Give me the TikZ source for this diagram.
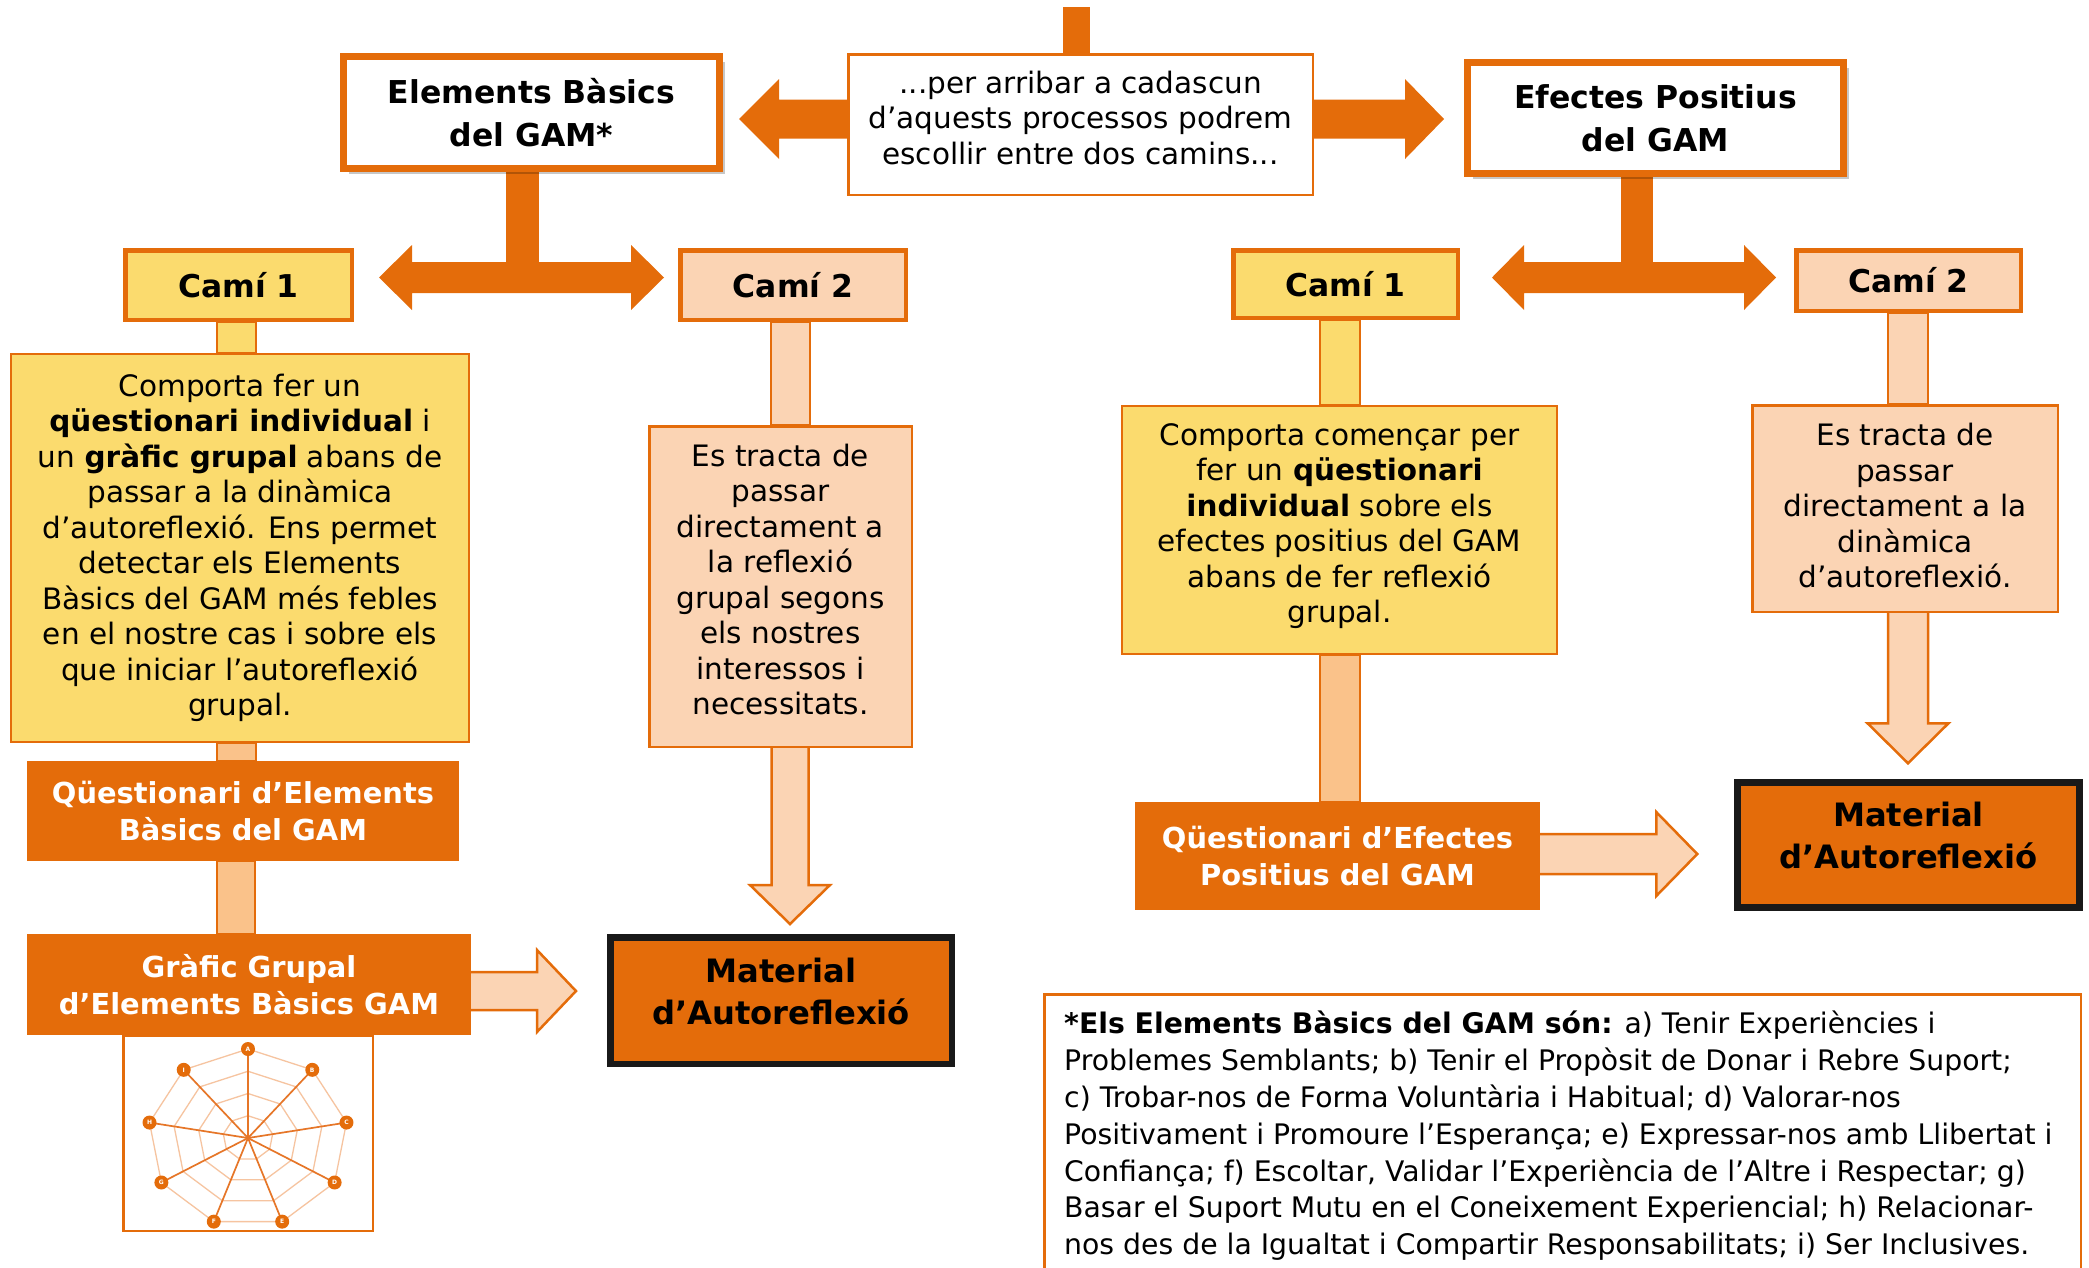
\documentclass[tikz,border=0pt]{standalone}
\usepackage{fontspec}
\setmainfont{DejaVu Sans}
\usetikzlibrary{calc,shadows,backgrounds}
\definecolor{org}{HTML}{E46C0A}
\definecolor{yel}{HTML}{FBDB6E}
\definecolor{pch}{HTML}{FBD4B4}
\definecolor{lor}{HTML}{FAC28A}
\definecolor{ringc}{HTML}{F6C4A0}
\definecolor{spokec}{HTML}{E67628}

% horizontal block arrow: style, start, tip, shaft half, head half, head length
\newcommand\harrowpath[6]{\path[#1] let \p1=#2, \p2=#3, \n1={ifthenelse(\x2>\x1,1,-1)} in
 (\x1,{\y1+#4}) -- ({\x2-(\n1)*#6},{\y1+#4}) -- ({\x2-(\n1)*#6},{\y1+#5}) -- (\x2,\y1) -- ({\x2-(\n1)*#6},{\y1-#5}) -- ({\x2-(\n1)*#6},{\y1-#4}) -- (\x1,{\y1-#4}) -- cycle;}
% vertical block arrow
\newcommand\varrowpath[6]{\path[#1] let \p1=#2, \p2=#3, \n1={ifthenelse(\y2>\y1,1,-1)} in
 ({\x1+#4},\y1) -- ({\x1+#4},{\y2-(\n1)*#6}) -- ({\x1+#5},{\y2-(\n1)*#6}) -- (\x1,\y2) -- ({\x1-#5},{\y2-(\n1)*#6}) -- ({\x1-#4},{\y2-(\n1)*#6}) -- ({\x1-#4},\y1) -- cycle;}
% double headed horizontal arrow: style, left tip, right tip, shaft half, head half, head length
\newcommand\dblarrowpath[6]{\path[#1] let \p1=#2, \p2=#3 in
 (\x1,\y1) -- ({\x1+#6},{\y1+#5}) -- ({\x1+#6},{\y1+#4}) -- ({\x2-#6},{\y1+#4}) -- ({\x2-#6},{\y1+#5}) -- (\x2,\y1) -- ({\x2-#6},{\y1-#5}) -- ({\x2-#6},{\y1-#4}) -- ({\x1+#6},{\y1-#4}) -- ({\x1+#6},{\y1-#5}) -- cycle;}
% vertical bar: style, start (x centre), end, half width
\newcommand\vbarpath[4]{\path[#1] let \p1=#2, \p2=#3 in ({\x1-#4},\y1) rectangle ({\x1+#4},\y2);}

\tikzset{
 basebox/.style={rectangle, inner sep=0pt, align=center},
 txt/.style={font=\fontsize{29.5}{35.5}\selectfont},
 plaintext/.style={inner sep=0pt, align=center},
 introbox/.style={basebox, draw=org, line width=2.5pt, fill=white},
 headbox/.style={basebox, draw=org, line width=7pt, fill=white, font=\fontsize{31.5}{43}\selectfont\bfseries,
   drop shadow={shadow xshift=5pt, shadow yshift=-5pt, opacity=0.22, fill=black}},
 camibox/.style={basebox, draw=org, line width=4.5pt, font=\fontsize{31.4}{36}\selectfont\bfseries},
 descbox/.style={basebox, txt, draw=org, line width=2.5pt},
 qbox/.style={basebox, fill=org, text=white, font=\fontsize{28.9}{37.5}\selectfont\bfseries},
 matbox/.style={basebox, fill=org, draw=black!90, line width=6.5pt},
 mattext/.style={plaintext, font=\fontsize{32.2}{41.5}\selectfont\bfseries},
 bigarrow/.style={fill=org},
 softarrow/.style={fill=pch, draw=org, line width=2.5pt, line join=miter},
 connbar/.style={draw=org, line width=2pt},
 ringline/.style={draw=ringc, line width=1.3pt},
 spokeline/.style={draw=spokec, line width=1.7pt},
 radardot/.style={circle, fill=org, minimum size=14pt, inner sep=0pt, text=white, font=\fontsize{6}{6}\selectfont\bfseries},
}

\begin{document}
\begin{tikzpicture}[x=1pt,y=-1pt]
\useasboundingbox (0,0) rectangle (2089,1267);
\clip (0,0) rectangle (2089,1267);

% ---------- top row ----------
\node[introbox, minimum width=464.5pt, minimum height=140.5pt] (intro) at (1080.5,124.5) {};
\node[plaintext, txt] (introtxt) at ($(intro.center)+(0,-7)$)
  {...per arribar a cadascun\\d’aquests processos podrem\\escollir entre dos camins...};
\node[headbox, minimum width=376pt, minimum height=112pt] (elem) at (531.5,112.5) {Elements Bàsics\\del GAM*};
\node[headbox, minimum width=376pt, minimum height=111pt] (efec) at (1655.5,118) {Efectes Positius\\del GAM};
\coordinate (topend) at (1076.5,7);

% ---------- Camí boxes ----------
\node[camibox, fill=yel, minimum width=226.5pt, minimum height=69.5pt] (c1L) at (238.5,285) {Camí 1};
\node[camibox, fill=pch, minimum width=225.5pt, minimum height=69.5pt] (c2L) at (793,285) {Camí 2};
\node[camibox, fill=yel, minimum width=224.5pt, minimum height=67.5pt] (c1R) at (1345.5,284) {Camí 1};
\node[camibox, fill=pch, minimum width=224.5pt, minimum height=60.5pt] (c2R) at (1908.5,280.5) {Camí 2};

% ---------- description boxes ----------
\node[descbox, fill=yel, minimum width=458pt, minimum height=388pt] (yL) at (240,548)
  {Comporta fer un\\\textbf{qüestionari individual} i\\un \textbf{gràfic grupal} abans de\\passar a la dinàmica\\d’autoreflexió. Ens permet\\detectar els Elements\\Bàsics del GAM més febles\\en el nostre cas i sobre els\\que iniciar l’autoreflexió\\grupal.};
\node[descbox, fill=pch, minimum width=262.5pt, minimum height=320.5pt] (pL) at (780.5,586.5) {};
\node[plaintext, txt] (pLtxt) at ($(pL.center)+(0,-7)$)
  {Es tracta de\\passar\\directament a\\la reflexió\\grupal segons\\els nostres\\interessos i\\necessitats.};
\node[descbox, fill=yel, minimum width=435pt, minimum height=248pt] (yR) at (1339.5,530) {};
\node[plaintext, txt] (yRtxt) at ($(yR.center)+(0,-4)$)
  {Comporta començar per\\fer un \textbf{qüestionari}\\\textbf{individual} sobre els\\efectes positius del GAM\\abans de fer reflexió\\grupal.};
\node[descbox, fill=pch, minimum width=305.5pt, minimum height=206.5pt] (pR) at (1905,508.5) {};
\node[plaintext, txt] (pRtxt) at ($(pR.center)+(0,-3)$)
  {Es tracta de\\passar\\directament a la\\dinàmica\\d’autoreflexió.};

% ---------- lower boxes ----------
\node[qbox, minimum width=432pt, minimum height=100pt] (qL) at (243,811) {Qüestionari d’Elements\\Bàsics del GAM};
\node[qbox, minimum width=444pt, minimum height=101pt] (gL) at (249,984.5) {Gràfic Grupal\\d’Elements Bàsics GAM};
\node[matbox, minimum width=341.5pt, minimum height=126.5pt] (mL) at (781,1000.5) {};
\node[mattext] (mLtxt) at ($(mL.center)+(0,-9)$) {Material\\d’Autoreflexió};
\node[basebox, draw=org, line width=2.5pt, fill=white, minimum width=249.5pt, minimum height=195.5pt] (radar) at (248,1133) {};
\node[qbox, minimum width=405pt, minimum height=108pt] (qR) at (1337.5,856) {Qüestionari d’Efectes\\Positius del GAM};
\node[matbox, minimum width=342pt, minimum height=125pt] (mR) at (1908.5,845) {};
\node[mattext] (mRtxt) at ($(mR.center)+(0,-9.5)$) {Material\\d’Autoreflexió};

% ---------- note ----------
\node[basebox, draw=org, line width=2.5pt, fill=white, minimum width=1036.5pt, minimum height=294.5pt] (note) at (1562.5,1141.5) {};
\node[anchor=north west, inner sep=0pt, align=left, font=\fontsize{28.3}{36.8}\selectfont] (notetxt) at (1064,1011)
  {\textbf{*Els Elements Bàsics del GAM són:} a) Tenir Experiències i\\
   Problemes Semblants; b) Tenir el Propòsit de Donar i Rebre Suport;\\
   c) Trobar-nos de Forma Voluntària i Habitual; d) Valorar-nos\\
   Positivament i Promoure l’Esperança; e) Expressar-nos amb Llibertat i\\
   Confiança; f) Escoltar, Validar l’Experiència de l’Altre i Respectar; g)\\
   Basar el Suport Mutu en el Coneixement Experiencial; h) Relacionar-\\
   nos des de la Igualtat i Compartir Responsabilitats; i) Ser Inclusives.};

% ---------- radar chart ----------
\begin{scope}[shift={($(radar.center)+(0,5)$)}]
  \foreach \r in {0.25,0.5,0.75,1}{
    \draw[ringline] ({100*\r*cos(90)},{-89*\r*sin(90)})
      \foreach \k in {1,...,8}{ -- ({100*\r*cos(90-40*\k)},{-89*\r*sin(90-40*\k)}) } -- cycle;
  }
  \coordinate (rc) at (0,0);
  \foreach \k/\l in {0/A,1/B,2/C,3/D,4/E,5/F,6/G,7/H,8/I}{
    \coordinate (rp\k) at ({100*cos(90-40*\k)},{-89*sin(90-40*\k)});
    \draw[spokeline] (rc) -- (rp\k);
    \node[radardot] (rd\k) at (rp\k) {\l};
  }
\end{scope}

% ---------- connectors (behind boxes) ----------
\begin{scope}[on background layer]
  % top bar
  \fill[org] ($(topend)+(-13.5,0)$) rectangle ($(intro.north -| topend)+(13.5,2)$);
  % intro arrows
  \harrowpath{bigarrow}{($(intro.west)+(2,-5.5)$)}{($(elem.east)+(16,6.5)$)}{19.5pt}{40pt}{40pt}
  \harrowpath{bigarrow}{($(intro.east)+(-2,-5.5)$)}{($(efec.west)+(-20,1)$)}{19.5pt}{40pt}{39pt}
  % left double arrow + stem
  \coordinate (dL1) at ($(c1L.east)+(25,-7.5)$);
  \coordinate (dL2) at ($(c2L.west)+(-14,-7.5)$);
  \dblarrowpath{bigarrow}{(dL1)}{(dL2)}{15.5pt}{32.5pt}{33pt}
  \fill[org] let \p1=($(elem.south)+(-25.5,-3)$), \p2=(dL1) in (\x1,\y1) rectangle ({\x1+33pt},\y2);
  % right double arrow + stem
  \coordinate (dR1) at ($(c1R.east)+(32,-6.5)$);
  \coordinate (dR2) at ($(c2R.west)+(-18,-3)$);
  \dblarrowpath{bigarrow}{(dR1)}{(dR2)}{15.5pt}{32.5pt}{32pt}
  \fill[org] let \p1=($(efec.south)+(-34.5,-3)$), \p2=(dR1) in (\x1,\y1) rectangle ({\x1+32pt},\y2);
  % vertical connector bars
  \vbarpath{connbar, fill=yel}{($(c1L.south)+(-2.5,0)$)}{(yL.north)}{19.5pt}
  \vbarpath{connbar, fill=lor}{($(yL.south)+(-4,0)$)}{(qL.north)}{19.5pt}
  \vbarpath{connbar, fill=lor}{($(qL.south)+(-7,0)$)}{(gL.north)}{19pt}
  \vbarpath{connbar, fill=pch}{($(c2L.south)+(-3,0)$)}{(pL.north)}{19.5pt}
  \vbarpath{connbar, fill=yel}{($(c1R.south)+(-5.5,0)$)}{(yR.north)}{20pt}
  \vbarpath{connbar, fill=lor}{($(yR.south)+(0.5,0)$)}{(qR.north)}{20pt}
  \vbarpath{connbar, fill=pch}{($(c2R.south)+(-0.5,0)$)}{(pR.north)}{20pt}
  % soft arrows
  \varrowpath{softarrow}{($(pL.south)+(9.5,-2)$)}{($(mL.north)+(9,-10)$)}{18.5pt}{40pt}{39pt}
  \varrowpath{softarrow}{($(pR.south)+(3,-2)$)}{($(mR.north)+(-0.5,-16)$)}{20pt}{40.5pt}{40pt}
  \harrowpath{softarrow}{($(gL.east)+(-2,6.5)$)}{($(mL.west)+(-31,-9.5)$)}{19pt}{41pt}{39pt}
  \harrowpath{softarrow}{($(qR.east)+(-2,-2)$)}{($(mR.west)+(-37,9)$)}{20pt}{42pt}{41pt}
\end{scope}
\end{tikzpicture}
\end{document}
